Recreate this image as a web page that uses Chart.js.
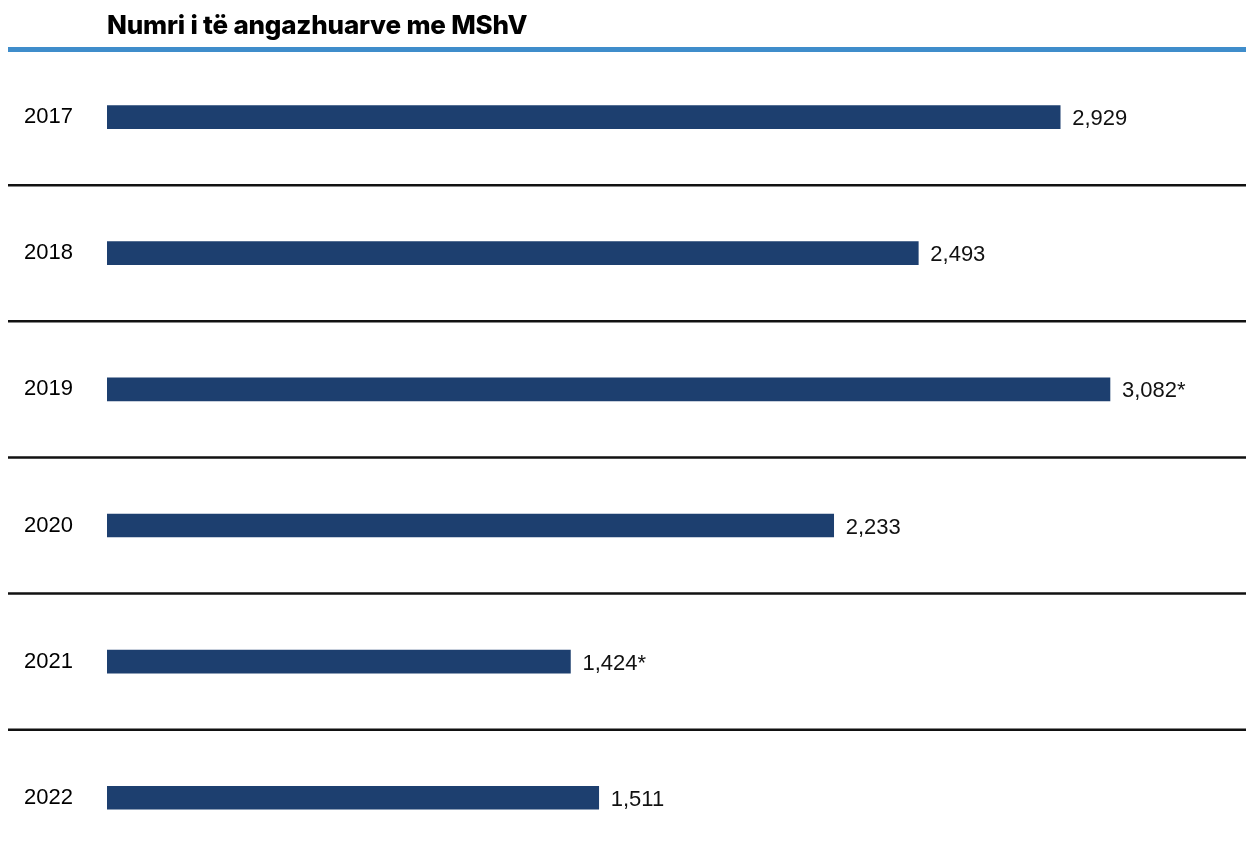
<!DOCTYPE html>
<html>
<head>
<meta charset="utf-8">
<title>Numri i të angazhuarve me MShV</title>
<script src="https://cdn.jsdelivr.net/npm/chart.js@4.4.1/dist/chart.umd.min.js"></script>
<style>
  html, body { margin: 0; padding: 0; background: #fff; overflow: hidden; }
  .wrap { position: relative; width: 1246px; height: 882px; }
  .title {
    position: absolute; left: 107px; top: 9px;
    font-family: Inter, "Open Sans", sans-serif; font-weight: 800; font-size: 26px;
    color: #000; letter-spacing: -0.2px;
  }
  .rule { position: absolute; left: 8px; right: 0; top: 47px; height: 5px; background: #3f8dcb; }
  #myChart { position: absolute; left: 0; top: 0; }
</style>
</head>
<body>
<div class="wrap">
  <canvas id="myChart" width="1246" height="882"></canvas>
  <div class="title">Numri i të angazhuarve me MShV</div>
  <div class="rule"></div>
</div>
<script>
// data
var years = ["2017", "2018", "2019", "2020", "2021", "2022"];
var engaged = [2929, 2493, 3082, 2233, 1424, 1511];
var notes = ["", "", "*", "", "*", ""];

// separators between the rows, full width
var rowLines = {
  id: 'rowLines',
  beforeDatasetsDraw(chart) {
    var y = chart.scales.y, ctx = chart.ctx;
    ctx.save();
    ctx.strokeStyle = '#111';
    ctx.lineWidth = 2.5;
    for (var i = 0; i < years.length - 1; i++) {
      var py = (y.getPixelForValue(i) + y.getPixelForValue(i + 1)) / 2;
      ctx.beginPath();
      ctx.moveTo(8, py);
      ctx.lineTo(chart.width, py);
      ctx.stroke();
    }
    ctx.restore();
  }
};

// value labels at the end of each bar
var valueLabels = {
  id: 'valueLabels',
  afterDatasetsDraw(chart) {
    var ctx = chart.ctx;
    var meta = chart.getDatasetMeta(0);
    ctx.save();
    ctx.font = '22px "Liberation Sans", Arial, sans-serif';
    ctx.fillStyle = '#111';
    ctx.textAlign = 'left';
    ctx.textBaseline = 'middle';
    meta.data.forEach(function (bar, i) {
      ctx.fillText(engaged[i].toLocaleString('en-US') + notes[i], bar.x + 12, bar.y + 2);
    });
    ctx.restore();
  }
};

var ctx = document.getElementById('myChart').getContext('2d');
var myChart = new Chart(ctx, {
  type: 'bar',
  data: {
    labels: years,
    datasets: [{
      data: engaged,
      backgroundColor: '#1d3f6f',
      barThickness: 23
    }]
  },
  options: {
    indexAxis: 'y',
    responsive: false,
    animation: false,
    layout: { padding: { top: 49, bottom: 5, left: 24, right: 0 } },
    plugins: {
      legend: { display: false },
      tooltip: { enabled: false }
    },
    scales: {
      x: { display: false, min: 0, max: 3500 },
      y: {
        grid: { display: false },
        border: { display: false },
        ticks: {
          crossAlign: 'far',
          color: '#000',
          font: { family: '"Liberation Sans", Arial, sans-serif', size: 22 }
        },
        afterFit: function (scale) { scale.width = 83; }
      }
    }
  },
  plugins: [rowLines, valueLabels]
});
</script>
</body>
</html>
